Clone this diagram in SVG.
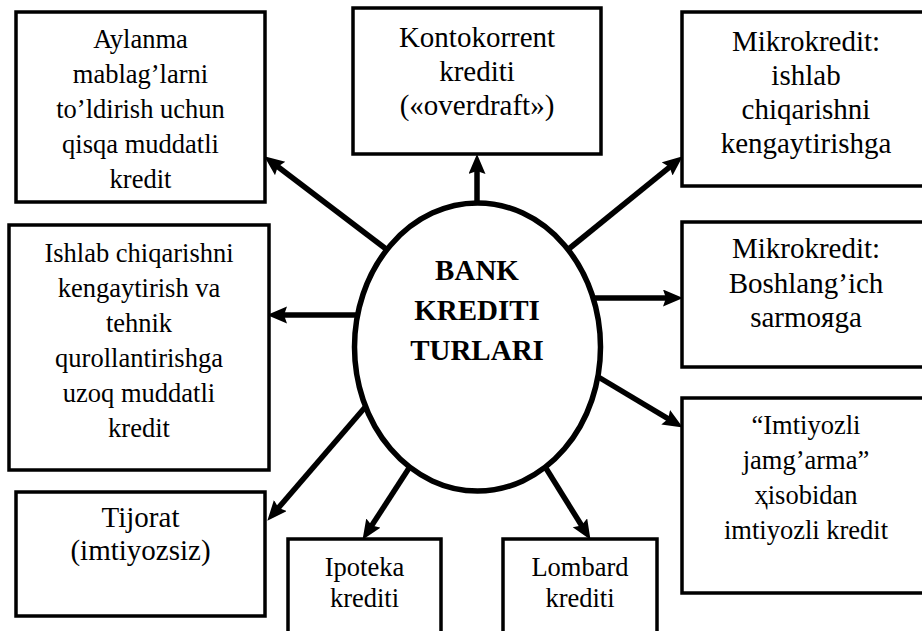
<svg xmlns="http://www.w3.org/2000/svg" width="922" height="631" viewBox="0 0 922 631" font-family="'Liberation Serif', 'Times New Roman', 'DejaVu Serif', serif">
<defs>
<marker id="ah" markerUnits="userSpaceOnUse" markerWidth="24" markerHeight="20" refX="9" refY="8.5" orient="auto">
<path d="M0,0 L20,8.5 L0,17 L3,8.5 z" fill="#000"/>
</marker>
<style>
.box{fill:#fff;stroke:#000;stroke-width:3.5}
.c{fill:none;stroke:#000;stroke-width:5.5;marker-end:url(#ah)}
text{fill:#000;text-anchor:middle}
.t1{font-size:26.5px}
.t2{font-size:29px}
.tb{font-size:29px;font-weight:bold}
</style>
</defs>
<rect width="922" height="631" fill="#fff"/>
<g id="connectors">
<line class="c" x1="390" y1="252" x2="273" y2="163"/>
<line class="c" x1="360" y1="315" x2="278" y2="315"/>
<line class="c" x1="477" y1="206" x2="477" y2="165"/>
<line class="c" x1="565" y1="252" x2="674.2" y2="163.3"/>
<line class="c" x1="592" y1="298" x2="672" y2="298"/>
<line class="c" x1="595" y1="375" x2="673.4" y2="421.9"/>
<line class="c" x1="544" y1="465" x2="584.7" y2="530.5"/>
<line class="c" x1="411" y1="465" x2="368.5" y2="530.6"/>
<line class="c" x1="367" y1="405" x2="274.5" y2="512.4"/>
</g>
<g id="center">
<ellipse cx="477.5" cy="347" rx="123" ry="144" fill="#fff" stroke="#000" stroke-width="5.5"/>
<text class="tb" x="477" y="280">BANK</text>
<text class="tb" x="477" y="320">KREDITI</text>
<text class="tb" x="477" y="360">TURLARI</text>
</g>
<g id="aylanma">
<rect class="box" x="16" y="12" width="249" height="190"/>
<text class="t1" x="140.5" y="48">Aylanma</text>
<text class="t1" x="140.5" y="83">mablag’larni</text>
<text class="t1" x="140.5" y="118">to’ldirish uchun</text>
<text class="t1" x="140.5" y="153">qisqa muddatli</text>
<text class="t1" x="140.5" y="188">kredit</text>
</g>
<g id="kontokorrent">
<rect class="box" x="353" y="8" width="248" height="146"/>
<text class="t2" x="477" y="47">Kontokorrent</text>
<text class="t2" x="477" y="81">krediti</text>
<text class="t2" x="477" y="115">(«overdraft»)</text>
</g>
<g id="mikro1">
<rect class="box" x="682" y="12" width="250" height="174"/>
<text class="t2" x="806" y="51">Mikrokredit:</text>
<text class="t2" x="806" y="85">ishlab</text>
<text class="t2" x="806" y="119">chiqarishni</text>
<text class="t2" x="806" y="153">kengaytirishga</text>
</g>
<g id="ishlab">
<rect class="box" x="9" y="225" width="260" height="245"/>
<text class="t1" x="139" y="262">Ishlab chiqarishni</text>
<text class="t1" x="139" y="297">kengaytirish va</text>
<text class="t1" x="139" y="332">tehnik</text>
<text class="t1" x="139" y="367">qurollantirishga</text>
<text class="t1" x="139" y="402">uzoq muddatli</text>
<text class="t1" x="139" y="437">kredit</text>
</g>
<g id="mikro2">
<rect class="box" x="682" y="222" width="250" height="145"/>
<text class="t2" x="806" y="258">Mikrokredit:</text>
<text class="t2" x="806" y="293">Boshlang’ich</text>
<text class="t2" x="806" y="327">sarmoяga</text>
</g>
<g id="imtiyozli">
<rect class="box" x="682" y="398" width="250" height="195"/>
<text class="t1" x="806" y="434">“Imtiyozli</text>
<text class="t1" x="806" y="469">jamg’arma”</text>
<text class="t1" x="806" y="504">ҳisobidan</text>
<text class="t1" x="806" y="539">imtiyozli kredit</text>
</g>
<g id="tijorat">
<rect class="box" x="16" y="492" width="249" height="124"/>
<text class="t2" x="140.5" y="527">Tijorat</text>
<text class="t2" x="140.5" y="560">(imtiyozsiz)</text>
</g>
<g id="ipoteka">
<rect class="box" x="288" y="539" width="153" height="110"/>
<text class="t1" x="364.5" y="576">Ipoteka</text>
<text class="t1" x="364.5" y="607">krediti</text>
</g>
<g id="lombard">
<rect class="box" x="503" y="539" width="154" height="110"/>
<text class="t1" x="580" y="576">Lombard</text>
<text class="t1" x="580" y="607">krediti</text>
</g>
</svg>
